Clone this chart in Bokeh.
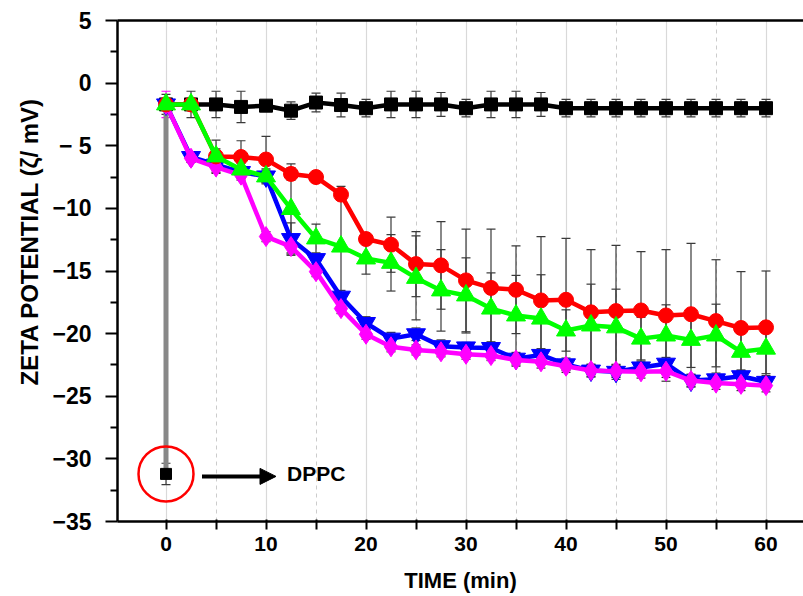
from bokeh.plotting import figure
from bokeh.models import (ColumnDataSource, Whisker, TeeHead, Arrow, NormalHead,
                          Label, FixedTicker, Range1d, LinearAxis, Title)
from bokeh.embed import file_html
from bokeh.resources import INLINE

# ---------------- data ----------------
time_min = [0, 2.5, 5, 7.5, 10, 12.5, 15, 17.5, 20, 22.5, 25, 27.5, 30,
            32.5, 35, 37.5, 40, 42.5, 45, 47.5, 50, 52.5, 55, 57.5, 60]

black_vals = [-1.7, -1.7, -1.7, -1.9, -1.8, -2.2, -1.55, -1.75, -2.0, -1.7, -1.7, -1.7, -2.0,
              -1.7, -1.7, -1.7, -2.0, -2.0, -2.0, -2.0, -2.0, -2.0, -2.0, -2.0, -2.0]
black_err = [0.8, 1.05, 1.05, 1.25, 0.3, 0.7, 0.75, 0.95, 0.7, 1.05, 1.05, 0.95, 0.7,
             1.05, 1.05, 0.95, 0.7, 0.7, 0.7, 0.7, 0.7, 0.7, 0.7, 0.7, 0.7]

red_vals = [-1.7, -1.7, -5.85, -5.9, -6.1, -7.25, -7.5, -8.9, -12.45, -12.9, -14.45, -14.55, -15.75,
            -16.35, -16.5, -17.35, -17.3, -18.3, -18.2, -18.15, -18.55, -18.45, -19.0, -19.55, -19.5]
red_err = [0.3, 0.3, 1.3, 1.3, 1.85, 0.5, 0.3, 0.4, 0.3, 2.2, 2.6, 3.5, 4.1,
           4.7, 3.5, 5.1, 4.9, 5.0, 5.25, 4.7, 5.25, 5.65, 4.9, 4.5, 4.5]

green_vals = [-1.7, -1.7, -5.85, -6.9, -7.45, -10.05, -12.4, -13.05, -14.0, -14.35, -15.55, -16.55, -16.95,
              -18.0, -18.55, -18.8, -19.75, -19.35, -19.5, -20.4, -20.15, -20.5, -20.15, -21.45, -21.2]
green_err = [0.3, 0.3, 0.6, 0.5, 0.5, 3.6, 1.15, 4.8, 1.25, 2.25, 3.35, 3.25, 3.0,
             2.85, 3.2, 3.5, 1.65, 3.3, 3.05, 1.7, 2.45, 2.2, 2.5, 1.5, 2.0]

blue_vals = [-1.7, -5.9, -6.5, -7.1, -7.45, -12.45, -14.05, -17.05, -19.15, -20.4, -20.05, -21.0, -21.1,
             -21.15, -22.0, -21.7, -22.45, -22.95, -23.05, -22.7, -22.4, -23.75, -23.65, -23.4, -23.85]
blue_err = [0.3, 0.4, 0.5, 0.5, 0.6, 1.3, 0.4, 0.5, 0.5, 0.5, 0.5, 0.5, 0.4,
            0.5, 0.5, 0.5, 0.5, 0.5, 0.6, 0.5, 0.5, 0.5, 0.5, 0.5, 0.5]

magenta_vals = [-1.7, -6.0, -6.7, -7.35, -12.25, -13.05, -15.05, -18.0, -20.05, -21.05, -21.3, -21.45, -21.65,
                -21.75, -22.1, -22.25, -22.6, -22.95, -23.0, -23.05, -23.0, -23.75, -23.95, -24.05, -24.15]
magenta_err = [1.05, 0.3, 0.5, 0.4, 0.4, 0.5, 0.4, 0.4, 0.4, 0.4, 0.4, 0.4, 0.4,
               0.4, 0.5, 0.5, 0.5, 0.5, 0.5, 0.5, 0.5, 0.5, 0.5, 0.5, 0.5]

dppc_x = [0]
dppc_y = [-31.2]
dppc_err = [0.85]
dppc_label = "DPPC"

x_ticks = [0, 10, 20, 30, 40, 50, 60]
x_minor_ticks = [-5, 5, 15, 25, 35, 45, 55]
y_ticks = [5, 0, -5, -10, -15, -20, -25, -30, -35]
y_tick_labels = ["5", "0", "\u2212 5", "\u221210", "\u221215", "\u221220", "\u221225", "\u221230", "\u221235"]
y_minor_ticks = [2.5, -2.5, -7.5, -12.5, -17.5, -22.5, -27.5, -32.5]

y_title = "ZETA POTENTIAL (\u03b6/ mV)"
x_title = "TIME (min)"

# ---------------- figure ----------------
FONT = "Liberation Sans"
p = figure(width=803, height=596, output_backend="svg", toolbar_location=None,
           x_range=Range1d(-4.85, 63.75), y_range=Range1d(-35, 5),
           min_border_left=117, min_border_right=0, min_border_top=20, min_border_bottom=75)
p.outline_line_color = None
p.background_fill_color = "white"

# axes
xa = p.xaxis[0]
xa.ticker = FixedTicker(ticks=x_ticks, minor_ticks=x_minor_ticks)
xa.axis_line_width = 2.5
xa.major_tick_line_width = 2
xa.minor_tick_line_width = 2
xa.major_tick_out = 8
xa.major_tick_in = 2
xa.minor_tick_out = 8
xa.minor_tick_in = 2
xa.major_label_text_font = FONT
xa.major_label_text_font_style = "bold"
xa.major_label_text_font_size = "21px"
xa.major_label_text_color = "black"
xa.major_label_standoff = 7
xa.axis_label = x_title
xa.axis_label_text_font = FONT
xa.axis_label_text_font_style = "bold"
xa.axis_label_text_font_size = "22px"
xa.axis_label_text_color = "black"
xa.axis_label_standoff = 14

ya = p.yaxis[0]
ya.ticker = FixedTicker(ticks=y_ticks, minor_ticks=y_minor_ticks)
ya.major_label_overrides = {t: lab for t, lab in zip(y_ticks, y_tick_labels)}
ya.axis_line_width = 2.5
ya.major_tick_line_width = 2
ya.minor_tick_line_width = 2
ya.major_tick_out = 12
ya.major_tick_in = 0
ya.minor_tick_out = 7
ya.minor_tick_in = 0
ya.major_label_text_font = FONT
ya.major_label_text_font_style = "bold"
ya.major_label_text_font_size = "23px"
ya.major_label_text_color = "black"
ya.major_label_standoff = 14

# y title as a left-side Title, starting higher than the frame bottom like the original
p.add_layout(Title(text=y_title, align="left", offset=136, standoff=14,
                   text_font=FONT, text_font_style="bold", text_font_size="24px",
                   text_color="black"), "left")

top_axis = LinearAxis(ticker=FixedTicker(ticks=[]), axis_line_width=2.5,
                      major_tick_line_color=None, minor_tick_line_color=None,
                      major_label_text_font_size="0px")
p.add_layout(top_axis, "above")

# grids
p.ygrid.grid_line_color = None
p.xgrid.grid_line_color = "#d9d9d9"
p.xgrid.grid_line_width = 1.2
p.xgrid.minor_grid_line_color = "#cccccc"
p.xgrid.minor_grid_line_dash = "4 4"
p.xgrid.minor_grid_line_width = 1

# connecting grey line from first point down to DPPC
p.segment(x0=[time_min[0]], y0=[black_vals[0]], x1=dppc_x, y1=dppc_y,
          line_color="#888888", line_width=5)

series = [
    ("black", black_vals, black_err, "square", 13),
    ("blue", blue_vals, blue_err, "inverted_triangle", 19),
    ("magenta", magenta_vals, magenta_err, "diamond", 20),
    ("red", red_vals, red_err, "circle", 15),
    ("green", green_vals, green_err, "triangle", 19),
]
colors = {"black": "#000000", "blue": "#0000ff", "magenta": "#ff00ff",
          "red": "#ff0000", "green": "#00ff00"}

ERR = "#3a3a3a"

def add_whisker(xs, ys, es, color):
    src = ColumnDataSource(dict(x=xs, lo=[y - e for y, e in zip(ys, es)],
                                hi=[y + e for y, e in zip(ys, es)]))
    w = Whisker(base="x", lower="lo", upper="hi", source=src,
                line_color=color, line_width=1.2,
                upper_head=TeeHead(size=9, line_color=color, line_width=1.2),
                lower_head=TeeHead(size=9, line_color=color, line_width=1.2))
    p.add_layout(w)

for name, vals, errs, marker, size in series:
    if name == "magenta":
        add_whisker(time_min[1:], vals[1:], errs[1:], ERR)
        add_whisker(time_min[:1], vals[:1], errs[:1], "#ff00ff")
    else:
        add_whisker(time_min, vals, errs, ERR)
add_whisker(dppc_x, dppc_y, dppc_err, ERR)

for name, vals, errs, marker, size in series:
    c = colors[name]
    p.line(time_min, vals, line_color=c, line_width=4.5)
    p.scatter(time_min, vals, marker=marker, size=size, fill_color=c, line_color=c)

# DPPC point, circle highlight, arrow and label
p.scatter(dppc_x, dppc_y, marker="square", size=11, fill_color="black", line_color="black")
p.scatter(dppc_x, dppc_y, marker="circle", size=55, fill_alpha=0, line_color="#ff0000", line_width=2.5)

arrow_y = dppc_y[0] - 0.2
p.add_layout(Arrow(x_start=3.6, y_start=arrow_y, x_end=11.0, y_end=arrow_y,
                   line_color="black", line_width=4,
                   end=NormalHead(size=16, fill_color="black", line_color="black")))
p.add_layout(Label(x=12.1, y=dppc_y[0], text=dppc_label, text_font=FONT,
                   text_font_style="bold", text_font_size="21px",
                   text_baseline="middle", text_color="black"))

open("out.html", "w").write(file_html(p, INLINE))
